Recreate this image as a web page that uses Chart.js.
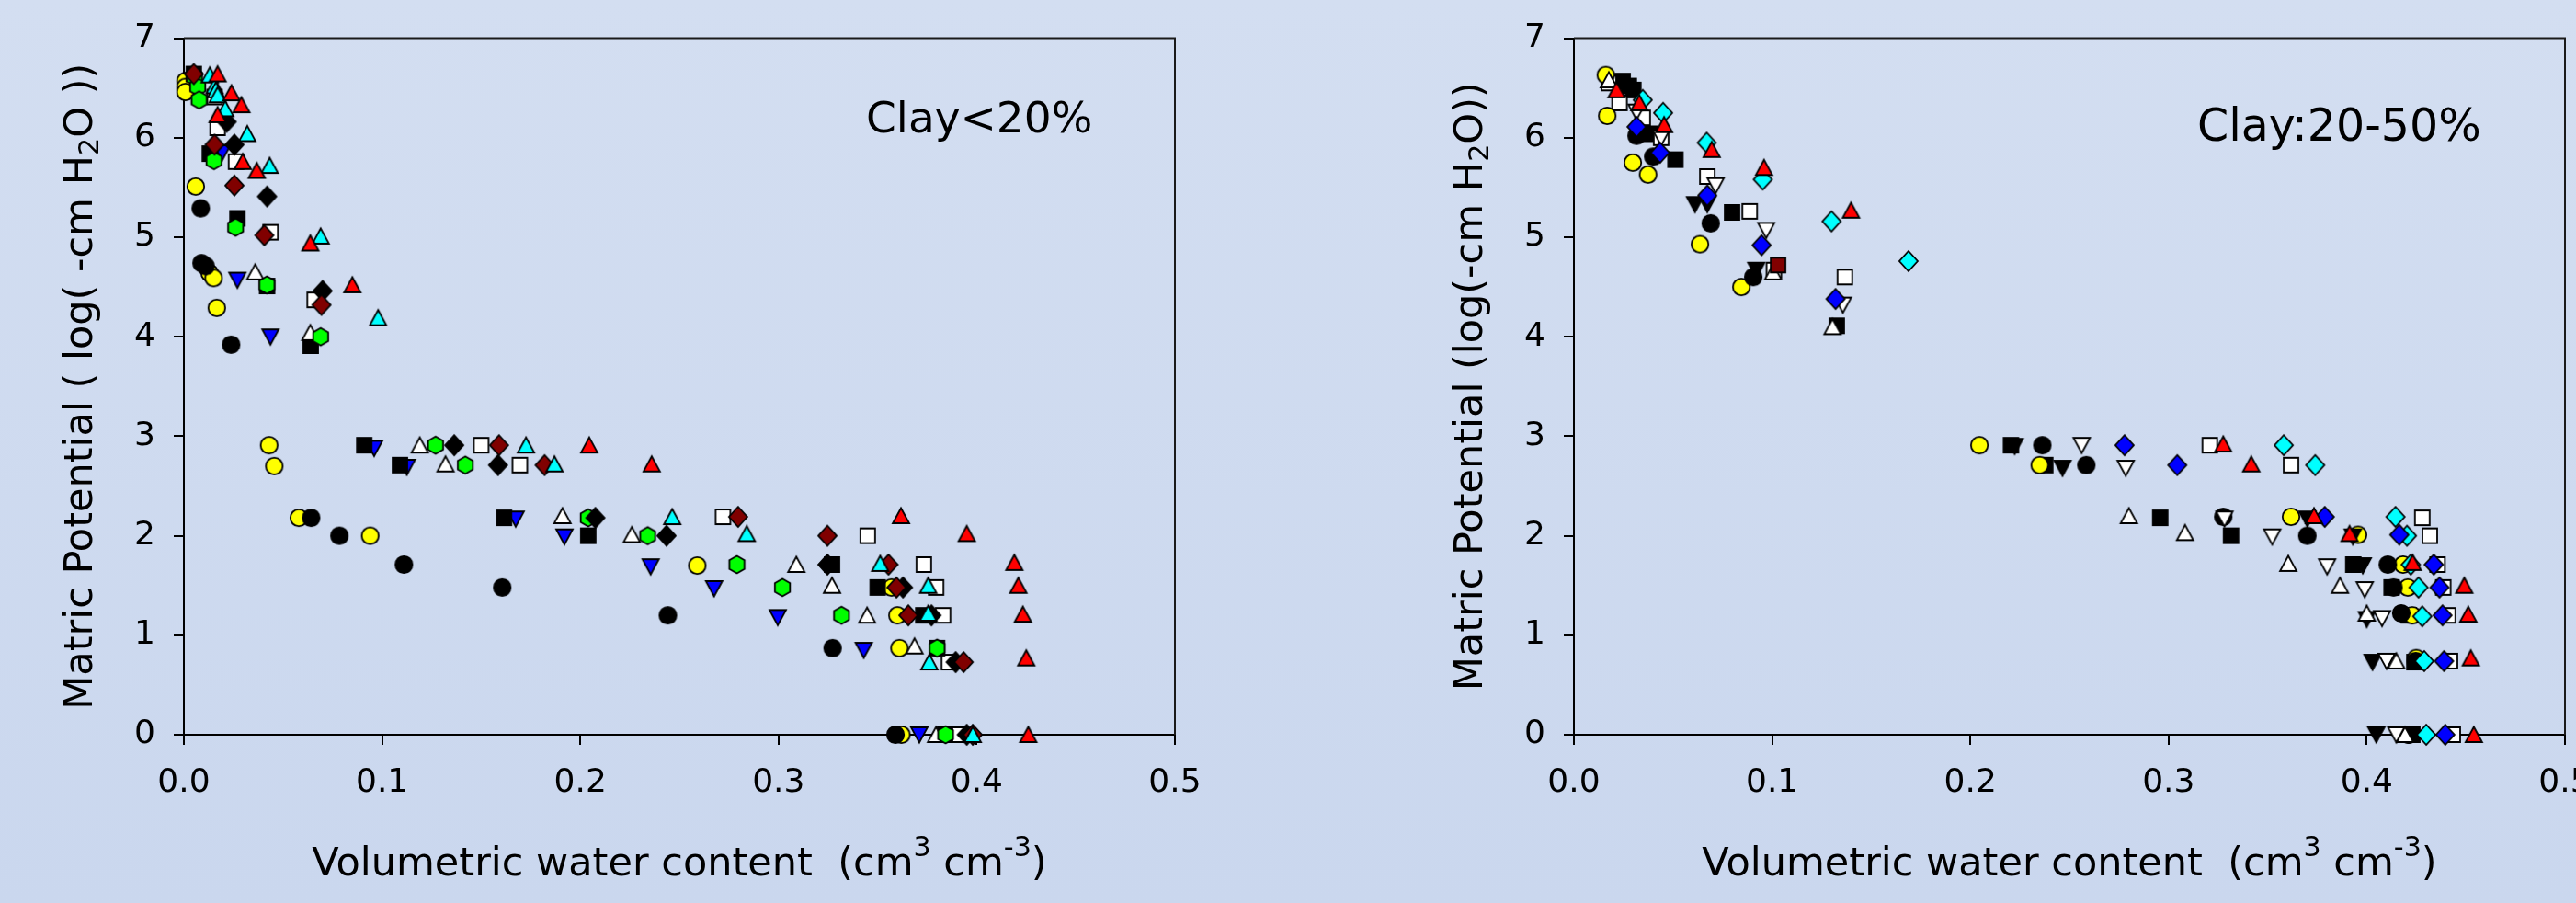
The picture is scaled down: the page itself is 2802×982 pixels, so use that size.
<!DOCTYPE html>
<html>
<head>
<meta charset="utf-8">
<title>Matric potential vs volumetric water content</title>
<script src="https://cdn.jsdelivr.net/npm/chart.js@4.4.0/dist/chart.umd.min.js"></script>
<style>
    html, body { margin: 0; padding: 0; overflow: hidden; }
    body {
        position: relative;
        width: 2802px;
        height: 982px;
        background: linear-gradient(#d3def1, #cad7ee);
    }
    canvas { position: absolute; top: 0; }
    #leftChart { left: 0; }
    #rightChart { left: 1400px; }
</style>
</head>
<body>
<canvas id="leftChart" width="1400" height="982"></canvas>
<canvas id="rightChart" width="1460" height="982"></canvas>
<script>
// Axes
const xTicks = [0, 0.1, 0.2, 0.3, 0.4, 0.5];
const yTicks = [0, 1, 2, 3, 4, 5, 6, 7];

// Panel 1 : Clay < 20%   [water content, log(-cm H2O)]
const leftYellowCircle = [[0.0008,6.57],[0.0008,6.51],[0.0008,6.46],[0.006,5.51],[0.013,4.64],[0.015,4.59],[0.0166,4.29],[0.043,2.91],[0.0456,2.70],[0.058,2.18],[0.094,2.0],[0.259,1.7],[0.357,1.48],[0.360,1.2],[0.361,0.87],[0.362,0]];
const leftBlackCircle = [[0.0085,5.29],[0.0089,4.74],[0.011,4.71],[0.0238,3.92],[0.0642,2.18],[0.0785,2.0],[0.111,1.71],[0.1606,1.48],[0.2442,1.2],[0.3273,0.87],[0.359,0]];
const leftBlackSquare = [[0.005,6.64],[0.0131,5.84],[0.027,5.19],[0.042,4.51],[0.064,3.91],[0.091,2.91],[0.109,2.71],[0.1615,2.18],[0.204,2.0],[0.327,1.71],[0.350,1.48],[0.373,1.2],[0.380,0.87],[0.384,0]];
const leftWhiteSquare = [[0.0155,6.41],[0.017,6.1],[0.0263,5.76],[0.0437,5.05],[0.066,4.37],[0.150,2.91],[0.1695,2.71],[0.272,2.19],[0.345,2.0],[0.3733,1.71],[0.3795,1.48],[0.383,1.2],[0.386,0.73],[0.3905,0]];
const leftBlueDown = [[0.0193,5.85],[0.027,4.57],[0.0437,4.0],[0.096,2.88],[0.1125,2.69],[0.1674,2.17],[0.192,1.99],[0.2355,1.69],[0.2675,1.47],[0.2996,1.18],[0.343,0.85],[0.371,0]];
const leftWhiteUp = [[0.036,4.65],[0.0638,4.04],[0.119,2.91],[0.132,2.72],[0.191,2.2],[0.226,2.01],[0.309,1.71],[0.327,1.5],[0.3447,1.2],[0.3686,0.89],[0.3795,0]];
const leftGreenHex = [[0.0054,6.61],[0.007,6.51],[0.0077,6.38],[0.0152,5.77],[0.0261,5.1],[0.0419,4.52],[0.069,4.0],[0.127,2.91],[0.142,2.71],[0.204,2.18],[0.234,2.0],[0.279,1.71],[0.302,1.48],[0.3318,1.2],[0.38,0.87],[0.3843,0]];
const leftBlackDiamond = [[0.0216,6.16],[0.0255,5.93],[0.042,5.41],[0.070,4.46],[0.1364,2.91],[0.1585,2.71],[0.2076,2.18],[0.2435,2.0],[0.3247,1.71],[0.3628,1.48],[0.3772,1.2],[0.3894,0.73],[0.395,0]];
const leftMaroonDiamond = [[0.005,6.64],[0.0155,5.93],[0.0255,5.52],[0.0406,5.02],[0.0694,4.32],[0.159,2.91],[0.182,2.71],[0.2796,2.19],[0.3247,2.0],[0.3555,1.71],[0.3595,1.48],[0.3655,1.2],[0.3934,0.73],[0.398,0]];
const leftCyanUp = [[0.0131,6.63],[0.0155,6.52],[0.0162,6.48],[0.017,6.43],[0.0209,6.29],[0.032,6.04],[0.0433,5.72],[0.069,5.01],[0.098,4.19],[0.1726,2.91],[0.187,2.72],[0.2464,2.19],[0.284,2.02],[0.3513,1.72],[0.3755,1.5],[0.3755,1.22],[0.3761,0.73],[0.398,0]];
const leftRedUp = [[0.017,6.64],[0.024,6.45],[0.029,6.33],[0.017,6.23],[0.0297,5.76],[0.0368,5.67],[0.0638,4.94],[0.085,4.52],[0.2045,2.91],[0.236,2.72],[0.3618,2.2],[0.395,2.02],[0.419,1.73],[0.421,1.5],[0.4233,1.21],[0.425,0.77],[0.426,0]];

// Panel 2 : Clay 20-50%
const rightYellowCircle = [[0.0161,6.63],[0.0168,6.22],[0.0297,5.75],[0.0374,5.63],[0.0636,4.93],[0.0845,4.5],[0.2046,2.91],[0.235,2.71],[0.3618,2.19],[0.3956,2.01],[0.4183,1.71],[0.4207,1.48],[0.423,1.2],[0.425,0.77],[0.421,0]];
const rightBlackCircle = [[0.0316,6.02],[0.040,5.81],[0.069,5.14],[0.0905,4.6],[0.2363,2.91],[0.2585,2.71],[0.3276,2.19],[0.370,2.0],[0.4106,1.71],[0.4135,1.48],[0.4174,1.22],[0.4247,0.74],[0.4212,0]];
const rightBlackSquare = [[0.0246,6.57],[0.0277,6.52],[0.030,6.48],[0.0385,6.04],[0.0512,5.78],[0.0798,5.25],[0.1326,4.11],[0.2205,2.91],[0.2378,2.71],[0.2958,2.18],[0.3315,2.0],[0.3932,1.71],[0.4125,1.48],[0.4212,1.2],[0.424,0.73],[0.423,0]];
const rightWhiteSquare = [[0.0176,6.55],[0.023,6.35],[0.0347,6.2],[0.044,6.0],[0.0673,5.61],[0.0887,5.26],[0.1009,4.67],[0.1367,4.6],[0.3208,2.91],[0.3618,2.71],[0.428,2.18],[0.4318,2.0],[0.4357,1.71],[0.4386,1.48],[0.441,1.2],[0.442,0.74],[0.4434,0]];
const rightBlackDown = [[0.0611,5.33],[0.0673,5.33],[0.092,4.67],[0.2224,2.9],[0.2465,2.68],[0.37,2.17],[0.393,1.99],[0.398,1.7],[0.400,1.16],[0.4029,0.73],[0.4048,0]];
const rightWhiteDown = [[0.0316,6.26],[0.044,6.0],[0.0715,5.52],[0.097,5.07],[0.1357,4.32],[0.2562,2.91],[0.2784,2.68],[0.3282,2.17],[0.3523,1.99],[0.38,1.69],[0.399,1.46],[0.4077,1.17],[0.41,0.74],[0.4149,0]];
const rightWhiteUp = [[0.0176,6.58],[0.1005,4.65],[0.1305,4.1],[0.28,2.2],[0.3083,2.03],[0.3604,1.72],[0.3865,1.5],[0.400,1.22],[0.4149,0.74],[0.4193,0]];
const rightCyanDiamond = [[0.0347,6.38],[0.045,6.25],[0.067,5.95],[0.0953,5.58],[0.130,5.16],[0.1688,4.76],[0.3581,2.91],[0.374,2.71],[0.4145,2.19],[0.4203,2.0],[0.4222,1.71],[0.4261,1.48],[0.428,1.19],[0.429,0.74],[0.43,0]];
const rightBlueDiamond = [[0.0316,6.11],[0.0435,5.85],[0.0673,5.42],[0.0947,4.92],[0.132,4.38],[0.2778,2.91],[0.3044,2.71],[0.3788,2.19],[0.4164,2.01],[0.4338,1.71],[0.4367,1.48],[0.4382,1.2],[0.439,0.74],[0.4396,0]];
const rightMaroonSquare = [[0.103,4.72]];
const rightRedUp = [[0.0215,6.48],[0.033,6.35],[0.0455,6.13],[0.0695,5.88],[0.0959,5.7],[0.1398,5.27],[0.3276,2.92],[0.3417,2.72],[0.3734,2.2],[0.3913,2.02],[0.4232,1.73],[0.4492,1.5],[0.4512,1.21],[0.4525,0.77],[0.454,0]];

const FONT = "'DejaVu Sans', Verdana, sans-serif";

// Dessine un marqueur (style Excel) dans un petit canvas
function marker(shape, fill) {
    const c = document.createElement('canvas');
    c.width = 26;
    c.height = 26;
    const g = c.getContext('2d');
    g.translate(13, 13);
    g.beginPath();
    if (shape === 'circle') {
        g.arc(0, 0, 9.2, 0, Math.PI * 2);
    } else if (shape === 'square') {
        g.rect(-8, -8, 16, 16);
    } else if (shape === 'diamond') {
        g.moveTo(0, -11); g.lineTo(10, 0); g.lineTo(0, 11); g.lineTo(-10, 0);
        g.closePath();
    } else if (shape === 'up') {
        g.moveTo(0, -8.5); g.lineTo(9, 8); g.lineTo(-9, 8);
        g.closePath();
    } else if (shape === 'down') {
        g.moveTo(0, 8.5); g.lineTo(9, -8); g.lineTo(-9, -8);
        g.closePath();
    } else if (shape === 'hex') {
        for (let i = 0; i < 6; i++) {
            const a = (-90 + 60 * i) * Math.PI / 180;
            g.lineTo(9.5 * Math.cos(a), 9.5 * Math.sin(a));
        }
        g.closePath();
    }
    g.fillStyle = fill;
    g.fill();
    g.lineWidth = 1.8;
    g.strokeStyle = '#000';
    g.stroke();
    return c;
}

// Texte avec indices / exposants
function drawRich(ctx, parts, size) {
    let total = 0;
    const widths = parts.map(p => {
        ctx.font = (p[1] ? size * 0.7 : size) + 'px ' + FONT;
        const w = ctx.measureText(p[0]).width;
        total += w;
        return w;
    });
    let x = -total / 2;
    parts.forEach((p, i) => {
        ctx.font = (p[1] ? size * 0.7 : size) + 'px ' + FONT;
        let dy = 0;
        if (p[1] === 'sub') dy = size * 0.17;
        if (p[1] === 'sup') dy = -size * 0.5;
        ctx.fillText(p[0], x, dy);
        x += widths[i];
    });
}

function decor(cfg) {
    return {
        id: 'decor',
        afterDraw(chart) {
            const ctx = chart.ctx;
            const a = chart.chartArea;
            ctx.save();
            // cadre haut et droit
            ctx.strokeStyle = '#1a1a1a';
            ctx.lineWidth = 2;
            ctx.beginPath();
            ctx.moveTo(a.left, a.top);
            ctx.lineTo(a.right, a.top);
            ctx.lineTo(a.right, a.bottom);
            ctx.stroke();

            ctx.fillStyle = '#000';
            ctx.textAlign = 'left';
            ctx.textBaseline = 'alphabetic';

            // titre axe Y
            ctx.save();
            ctx.translate(cfg.yTitleX, (a.top + a.bottom) / 2);
            ctx.rotate(-Math.PI / 2);
            drawRich(ctx, cfg.yTitle, 43);
            ctx.restore();

            // titre axe X
            ctx.save();
            ctx.translate((a.left + a.right) / 2, 952);
            drawRich(ctx, cfg.xTitle, 43);
            ctx.restore();

            // étiquette du panneau
            ctx.font = cfg.labelSize + 'px ' + FONT;
            ctx.fillText(cfg.label, cfg.labelX, cfg.labelY);
            ctx.restore();
        }
    };
}

function buildChart(id, series, padRight, yWidth, cfg) {
    const datasets = series.map((s, i) => ({
        data: s[0].map(p => ({ x: p[0], y: p[1] })),
        pointStyle: marker(s[1], s[2]),
        pointRadius: 10,
        order: -i,
        clip: false
    }));
    const axisCommon = {
        grid: { drawOnChartArea: false, drawTicks: true, tickLength: 11, color: '#000', lineWidth: 2 },
        border: { display: true, color: '#000', width: 2 },
        ticks: { color: '#000', font: { family: FONT, size: 36 }, padding: 20, autoSkip: false }
    };
    return new Chart(document.getElementById(id), {
        type: 'scatter',
        data: { datasets: datasets },
        options: {
            responsive: false,
            animation: false,
            events: [],
            layout: { padding: { top: 29, right: padRight, left: 0, bottom: 0 } },
            plugins: { legend: { display: false }, tooltip: { enabled: false } },
            scales: {
                x: Object.assign({}, axisCommon, {
                    type: 'linear', min: 0, max: 0.5,
                    afterBuildTicks: scale => { scale.ticks = xTicks.map(v => ({ value: v })); },
                    afterFit: scale => { scale.height = 183; },
                    ticks: Object.assign({}, axisCommon.ticks, { callback: v => v.toFixed(1) })
                }),
                y: Object.assign({}, axisCommon, {
                    type: 'linear', min: 0, max: 7,
                    afterBuildTicks: scale => { scale.ticks = yTicks.map(v => ({ value: v })); },
                    afterFit: scale => { scale.width = yWidth; },
                    ticks: Object.assign({}, axisCommon.ticks, { callback: v => String(v) })
                })
            }
        },
        plugins: [decor(cfg)]
    });
}

// de l'arrière vers l'avant
const leftSeries = [
    [leftYellowCircle, 'circle', '#ffff00'],
    [leftBlackCircle, 'circle', '#000000'],
    [leftWhiteSquare, 'square', '#ffffff'],
    [leftBlueDown, 'down', '#0000ff'],
    [leftBlackSquare, 'square', '#000000'],
    [leftWhiteUp, 'up', '#ffffff'],
    [leftGreenHex, 'hex', '#00ff00'],
    [leftBlackDiamond, 'diamond', '#000000'],
    [leftMaroonDiamond, 'diamond', '#800000'],
    [leftCyanUp, 'up', '#00ffff'],
    [leftRedUp, 'up', '#ff0000']
];

const rightSeries = [
    [rightBlackSquare, 'square', '#000000'],
    [rightWhiteSquare, 'square', '#ffffff'],
    [rightYellowCircle, 'circle', '#ffff00'],
    [rightBlackCircle, 'circle', '#000000'],
    [rightBlackDown, 'down', '#000000'],
    [rightWhiteDown, 'down', '#ffffff'],
    [rightWhiteUp, 'up', '#ffffff'],
    [rightCyanDiamond, 'diamond', '#00ffff'],
    [rightBlueDiamond, 'diamond', '#0000ff'],
    [rightMaroonSquare, 'square', '#800000'],
    [rightRedUp, 'up', '#ff0000']
];

const xTitle = [['Volumetric water content  (cm'], ['3', 'sup'], [' cm'], ['-3', 'sup'], [')']];

buildChart('leftChart', leftSeries, 122, 200, {
    yTitle: [['Matric Potential ( log( -cm H'], ['2', 'sub'], ['O ))']],
    yTitleX: 100,
    xTitle: xTitle,
    label: 'Clay<20%', labelSize: 47, labelX: 942, labelY: 144
});

buildChart('rightChart', rightSeries, 70, 312, {
    yTitle: [['Matric Potential (log(-cm H'], ['2', 'sub'], ['O))']],
    yTitleX: 212,
    xTitle: xTitle,
    label: 'Clay:20-50%', labelSize: 49, labelX: 990, labelY: 153
});
</script>
</body>
</html>
